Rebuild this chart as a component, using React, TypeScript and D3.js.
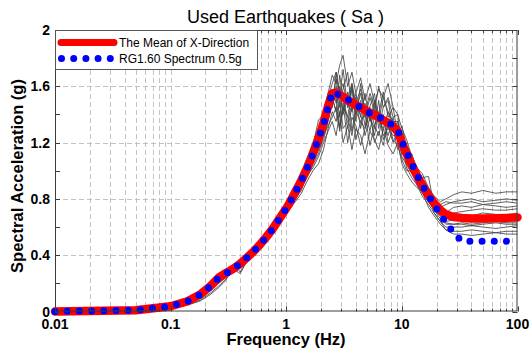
import React, { useEffect, useRef } from 'react';
import * as d3 from 'd3';

// frequency grid (Hz) shared by all curves
const freqs = [
  0.01, 0.05, 0.1, 0.14, 0.18, 0.22, 0.26, 0.3, 0.35, 0.4, 0.46, 0.52, 0.6, 0.68, 0.76, 0.85, 0.95, 1.05, 1.2, 1.35,
  1.5, 1.7, 1.9, 2.1, 2.3, 2.5, 2.7, 2.9, 3.1, 3.4, 3.7, 4.0, 4.4, 4.8, 5.3, 5.8, 6.3, 6.9, 7.6, 8.4,
  9.2, 10, 11, 12.2, 13.5, 15, 17, 19, 21.5, 24, 28, 33, 40, 50, 65, 80, 100,
];

const rg160 = [
  0.0004, 0.009, 0.037, 0.073, 0.12, 0.18, 0.24, 0.27, 0.305, 0.34, 0.385, 0.425, 0.48, 0.535, 0.585, 0.645, 0.705, 0.76, 0.85, 0.93,
  1.01, 1.12, 1.23, 1.33, 1.45, 1.56, 1.55, 1.535, 1.525, 1.505, 1.49, 1.47, 1.45, 1.43, 1.41, 1.4, 1.385, 1.365, 1.345, 1.32,
  1.29, 1.21, 1.13, 1.05, 0.97, 0.9, 0.82, 0.76, 0.69, 0.63, 0.56, 0.5, 0.5, 0.5, 0.5, 0.5, 0.5,
];

const meanX = [
  0.0004, 0.009, 0.037, 0.073, 0.12, 0.18, 0.24, 0.272, 0.305, 0.34, 0.385, 0.425, 0.48, 0.535, 0.585, 0.645, 0.705, 0.76, 0.85, 0.93,
  1.01, 1.12, 1.23, 1.34, 1.46, 1.55, 1.555, 1.54, 1.525, 1.5, 1.485, 1.465, 1.45, 1.43, 1.41, 1.395, 1.38, 1.36, 1.34, 1.315,
  1.28, 1.2, 1.12, 1.04, 0.965, 0.9, 0.825, 0.77, 0.72, 0.69, 0.672, 0.665, 0.66, 0.66, 0.662, 0.665, 0.668,
];

// individual earthquake spectra (grey)
const eq1 = [
  0.0004, 0.009, 0.038, 0.074, 0.122, 0.182, 0.245, 0.28, 0.31, 0.35, 0.4, 0.44, 0.5, 0.56, 0.6, 0.67, 0.73, 0.8, 0.9, 0.99,
  1.08, 1.2, 1.3, 1.42, 1.55, 1.68, 1.62, 1.75, 1.82, 1.6, 1.7, 1.55, 1.66, 1.5, 1.62, 1.48, 1.58, 1.52, 1.62, 1.45,
  1.4, 1.3, 1.22, 1.1, 1.02, 0.98, 0.88, 0.82, 0.78, 0.8, 0.83, 0.85, 0.84, 0.86, 0.84, 0.85, 0.85,
];
const eq2 = [
  0.0004, 0.009, 0.036, 0.072, 0.118, 0.178, 0.238, 0.27, 0.32, 0.33, 0.39, 0.42, 0.49, 0.52, 0.6, 0.63, 0.72, 0.75, 0.88, 0.92,
  1.05, 1.1, 1.26, 1.3, 1.5, 1.5, 1.65, 1.45, 1.58, 1.7, 1.42, 1.55, 1.38, 1.55, 1.35, 1.5, 1.4, 1.56, 1.38, 1.45,
  1.26, 1.32, 1.16, 1.12, 1.0, 0.92, 0.85, 0.8, 0.74, 0.76, 0.78, 0.79, 0.8, 0.78, 0.79, 0.8, 0.79,
];
const eq3 = [
  0.0004, 0.009, 0.037, 0.073, 0.12, 0.18, 0.24, 0.28, 0.3, 0.35, 0.37, 0.44, 0.47, 0.55, 0.57, 0.66, 0.69, 0.78, 0.83, 0.96,
  0.98, 1.15, 1.18, 1.36, 1.4, 1.58, 1.48, 1.6, 1.4, 1.52, 1.62, 1.4, 1.5, 1.32, 1.46, 1.55, 1.3, 1.45, 1.5, 1.28,
  1.35, 1.15, 1.08, 1.08, 0.95, 0.95, 0.96, 0.74, 0.75, 0.7, 0.74, 0.75, 0.74, 0.76, 0.75, 0.74, 0.75,
];
const eq4 = [
  0.0004, 0.009, 0.036, 0.07, 0.115, 0.17, 0.23, 0.265, 0.31, 0.345, 0.38, 0.43, 0.49, 0.53, 0.59, 0.64, 0.71, 0.75, 0.86, 0.92,
  1.03, 1.1, 1.2, 1.28, 1.46, 1.52, 1.42, 1.68, 1.5, 1.38, 1.58, 1.35, 1.62, 1.42, 1.28, 1.48, 1.36, 1.3, 1.42, 1.3,
  1.32, 1.22, 1.1, 1.02, 0.98, 0.88, 0.8, 0.77, 0.72, 0.68, 0.7, 0.71, 0.72, 0.73, 0.72, 0.72, 0.73,
];
const eq5 = [
  0.0004, 0.009, 0.037, 0.074, 0.12, 0.18, 0.24, 0.27, 0.3, 0.34, 0.39, 0.41, 0.5, 0.54, 0.56, 0.65, 0.7, 0.78, 0.84, 0.95,
  1.0, 1.08, 1.25, 1.38, 1.42, 1.45, 1.6, 1.38, 1.55, 1.3, 1.45, 1.52, 1.3, 1.48, 1.38, 1.25, 1.42, 1.35, 1.25, 1.38,
  1.22, 1.18, 1.05, 1.06, 0.92, 0.9, 0.82, 0.74, 0.7, 0.66, 0.68, 0.69, 0.68, 0.7, 0.69, 0.68, 0.7,
];
const eq6 = [
  0.0004, 0.009, 0.035, 0.068, 0.11, 0.165, 0.22, 0.26, 0.29, 0.33, 0.39, 0.42, 0.46, 0.54, 0.58, 0.62, 0.68, 0.74, 0.82, 0.9,
  0.98, 1.06, 1.15, 1.22, 1.35, 1.48, 1.52, 1.32, 1.42, 1.56, 1.28, 1.45, 1.4, 1.25, 1.38, 1.3, 1.5, 1.22, 1.32, 1.2,
  1.28, 1.12, 1.12, 0.98, 0.94, 0.86, 0.8, 0.72, 0.68, 0.64, 0.65, 0.66, 0.65, 0.66, 0.67, 0.66, 0.66,
];
const eq7 = [
  0.0004, 0.008, 0.034, 0.065, 0.105, 0.155, 0.21, 0.25, 0.3, 0.32, 0.36, 0.42, 0.46, 0.5, 0.56, 0.6, 0.66, 0.72, 0.78, 0.84,
  0.92, 1.0, 1.05, 1.15, 1.3, 1.42, 1.35, 1.5, 1.3, 1.35, 1.48, 1.22, 1.35, 1.4, 1.18, 1.32, 1.25, 1.4, 1.2, 1.3,
  1.15, 1.2, 1.02, 0.95, 0.9, 0.84, 0.78, 0.72, 0.66, 0.62, 0.62, 0.63, 0.62, 0.63, 0.64, 0.63, 0.63,
];
const eq8 = [
  0.0004, 0.008, 0.033, 0.062, 0.1, 0.15, 0.2, 0.24, 0.31, 0.34, 0.38, 0.41, 0.47, 0.52, 0.59, 0.63, 0.67, 0.75, 0.8, 0.88,
  0.95, 1.04, 1.12, 1.25, 1.32, 1.38, 1.45, 1.28, 1.48, 1.2, 1.38, 1.32, 1.18, 1.3, 1.42, 1.2, 1.28, 1.18, 1.35, 1.22,
  1.18, 1.08, 1.0, 1.0, 0.9, 0.82, 0.76, 0.7, 0.64, 0.6, 0.6, 0.6, 0.61, 0.6, 0.59, 0.6, 0.61,
];
const eq9 = [
  0.0004, 0.006, 0.025, 0.045, 0.075, 0.12, 0.17, 0.22, 0.34, 0.28, 0.37, 0.4, 0.46, 0.5, 0.55, 0.6, 0.68, 0.72, 0.8, 0.86,
  0.96, 1.02, 1.1, 1.2, 1.28, 1.35, 1.25, 1.42, 1.2, 1.32, 1.15, 1.3, 1.25, 1.12, 1.28, 1.22, 1.15, 1.3, 1.18, 1.12,
  1.2, 1.05, 0.98, 0.92, 0.88, 0.85, 0.74, 0.68, 0.62, 0.58, 0.57, 0.57, 0.58, 0.57, 0.56, 0.57, 0.57,
];
const eq10 = [
  0.0004, 0.006, 0.028, 0.05, 0.08, 0.13, 0.18, 0.23, 0.3, 0.27, 0.36, 0.43, 0.48, 0.56, 0.6, 0.64, 0.72, 0.78, 0.86, 0.98,
  1.06, 1.18, 1.36, 1.4, 1.52, 1.62, 1.7, 1.55, 1.62, 1.45, 1.6, 1.42, 1.55, 1.38, 1.52, 1.42, 1.6, 1.45, 1.52, 1.38,
  1.4, 1.18, 1.06, 1.0, 0.92, 0.9, 0.82, 0.7, 0.64, 0.58, 0.55, 0.55, 0.54, 0.55, 0.56, 0.55, 0.55,
];
const eq11 = [
  0.0004, 0.009, 0.037, 0.072, 0.119, 0.179, 0.24, 0.275, 0.3, 0.345, 0.39, 0.43, 0.48, 0.54, 0.6, 0.64, 0.7, 0.77, 0.87, 0.95,
  1.05, 1.16, 1.28, 1.35, 1.55, 1.45, 1.7, 1.52, 1.72, 1.45, 1.62, 1.48, 1.58, 1.42, 1.55, 1.45, 1.35, 1.52, 1.42, 1.35,
  1.35, 1.2, 1.12, 1.05, 0.99, 0.9, 0.85, 0.79, 0.76, 0.78, 0.77, 0.77, 0.78, 0.76, 0.77, 0.78, 0.77,
];
const eq12 = [
  0.0004, 0.009, 0.036, 0.071, 0.116, 0.175, 0.235, 0.27, 0.29, 0.35, 0.38, 0.43, 0.47, 0.53, 0.57, 0.65, 0.69, 0.76, 0.84, 0.93,
  1.0, 1.12, 1.2, 1.32, 1.38, 1.52, 1.42, 1.3, 1.45, 1.38, 1.25, 1.42, 1.35, 1.3, 1.45, 1.32, 1.4, 1.25, 1.3, 1.25,
  1.25, 1.1, 1.04, 0.98, 0.93, 0.87, 0.78, 0.73, 0.68, 0.63, 0.62, 0.62, 0.61, 0.62, 0.63, 0.62, 0.62,
];
const quakes = [eq1, eq2, eq3, eq4, eq5, eq6, eq7, eq8, eq9, eq10, eq11, eq12];

const xTicks = [0.01, 0.1, 1, 10, 100];
const xTickLabels = ['0.01', '0.1', '1', '10', '100'];
const yTicks = [0, 0.4, 0.8, 1.2, 1.6, 2];
const yTickLabels = ['0', '0.4', '0.8', '1.2', '1.6', '2'];
const yMinorTicks = [0.2, 0.6, 1.0, 1.4, 1.8];
const legendLabels = ['The Mean of X-Direction', 'RG1.60 Spectrum 0.5g'];

export default function App() {
  const svgRef = useRef<SVGSVGElement>(null);

  useEffect(() => {
    if (!svgRef.current) return;
    document.body.style.margin = '0';

    const svg = d3.select(svgRef.current);
    svg.selectAll('*').remove();

    const W = 531;
    const H = 352;
    const margin = { top: 30, right: 13.5, bottom: 40.5, left: 55 };
    const font = 'Liberation Sans, Arial, sans-serif';

    const x = d3.scaleLog().domain([0.01, 100]).range([margin.left, W - margin.right]);
    const y = d3.scaleLinear().domain([0, 2]).range([H - margin.bottom, margin.top]);
    const [x0, x1] = x.range();
    const [y0, y1] = y.range();

    svg.append('rect').attr('width', W).attr('height', H).attr('fill', '#fff');

    // grid
    const grid = svg.append('g').attr('stroke', '#b4b4b4').attr('stroke-width', 0.8).attr('stroke-dasharray', '5,3');
    grid
      .selectAll('.vgrid')
      .data(x.ticks().filter((t) => t > 0.0101 && t < 99))
      .enter()
      .append('line')
      .attr('x1', (d) => Math.round(x(d)) + 0.5)
      .attr('x2', (d) => Math.round(x(d)) + 0.5)
      .attr('y1', y1)
      .attr('y2', y0);
    grid
      .selectAll('.hgrid')
      .data(yTicks.filter((t) => t > 0 && t < 2))
      .enter()
      .append('line')
      .attr('x1', x0)
      .attr('x2', x1)
      .attr('y1', (d) => Math.round(y(d)) + 0.5)
      .attr('y2', (d) => Math.round(y(d)) + 0.5);

    const line = d3
      .line<number>()
      .x((_, i) => x(freqs[i]))
      .y((d) => y(d));

    // earthquakes
    svg
      .append('g')
      .selectAll('path')
      .data(quakes)
      .enter()
      .append('path')
      .attr('d', line)
      .attr('fill', 'none')
      .attr('stroke', '#444')
      .attr('stroke-width', 0.85);

    // mean
    svg
      .append('path')
      .datum(meanX)
      .attr('d', line)
      .attr('fill', 'none')
      .attr('stroke', '#ff0000')
      .attr('stroke-width', 8.5)
      .attr('stroke-linejoin', 'round')
      .attr('stroke-linecap', 'round');

    // RG1.60 spectrum, big dots
    svg
      .append('path')
      .datum(rg160)
      .attr('d', line)
      .attr('fill', 'none')
      .attr('stroke', '#0000ff')
      .attr('stroke-width', 7)
      .attr('stroke-linecap', 'round')
      .attr('stroke-dasharray', '0 12.2');

    // box + ticks
    const axis = svg.append('g').attr('stroke', '#3c3c3c').attr('stroke-width', 1);
    axis
      .append('rect')
      .attr('x', x0 + 0.5)
      .attr('y', y1 + 0.5)
      .attr('width', x1 - x0 - 1)
      .attr('height', y0 - y1 - 1)
      .attr('fill', 'none');
    yTicks.concat(yMinorTicks).forEach((t) => {
      const yy = Math.round(y(t)) + 0.5;
      axis.append('line').attr('x1', x0).attr('x2', x0 + 5).attr('y1', yy).attr('y2', yy);
      axis.append('line').attr('x1', x1 - 5).attr('x2', x1).attr('y1', yy).attr('y2', yy);
    });
    x.ticks().forEach((t) => {
      const xx = Math.round(x(t)) + 0.5;
      const len = xTicks.some((m) => Math.abs(m - t) / m < 1e-6) ? 5 : 3;
      axis.append('line').attr('x1', xx).attr('x2', xx).attr('y1', y0).attr('y2', y0 - len);
      axis.append('line').attr('x1', xx).attr('x2', xx).attr('y1', y1).attr('y2', y1 + len);
    });

    // tick labels
    svg
      .selectAll('.xlab')
      .data(xTicks)
      .enter()
      .append('text')
      .attr('x', (d) => x(d))
      .attr('y', 328.5)
      .attr('text-anchor', 'middle')
      .attr('font-family', font)
      .attr('font-weight', 'bold')
      .attr('font-size', 14)
      .text((_, i) => xTickLabels[i]);
    svg
      .selectAll('.ylab')
      .data(yTicks)
      .enter()
      .append('text')
      .attr('x', 50)
      .attr('y', (d) => y(d) + 5)
      .attr('text-anchor', 'end')
      .attr('font-family', font)
      .attr('font-weight', 'bold')
      .attr('font-size', 14)
      .text((_, i) => yTickLabels[i]);

    // titles
    svg
      .append('text')
      .attr('x', 285.5)
      .attr('y', 22.5)
      .attr('text-anchor', 'middle')
      .attr('font-family', font)
      .attr('font-size', 18)
      .text('Used Earthquakes ( Sa )');
    svg
      .append('text')
      .attr('x', 286)
      .attr('y', 345)
      .attr('text-anchor', 'middle')
      .attr('font-family', font)
      .attr('font-weight', 'bold')
      .attr('font-size', 16.5)
      .text('Frequency (Hz)');
    svg
      .append('text')
      .attr('transform', 'translate(23,176) rotate(-90)')
      .attr('text-anchor', 'middle')
      .attr('font-family', font)
      .attr('font-weight', 'bold')
      .attr('font-size', 16.5)
      .text('Spectral Acceleration (g)');

    // legend
    const lg = svg.append('g');
    lg.append('rect')
      .attr('x', 55.5)
      .attr('y', 30.5)
      .attr('width', 202)
      .attr('height', 39)
      .attr('fill', '#fff')
      .attr('stroke', '#555')
      .attr('stroke-width', 1);
    lg.append('line')
      .attr('x1', 61)
      .attr('x2', 114)
      .attr('y1', 42.5)
      .attr('y2', 42.5)
      .attr('stroke', '#ff0000')
      .attr('stroke-width', 7)
      .attr('stroke-linecap', 'round');
    lg.append('line')
      .attr('x1', 61.5)
      .attr('x2', 111)
      .attr('y1', 58.5)
      .attr('y2', 58.5)
      .attr('stroke', '#0000ff')
      .attr('stroke-width', 7)
      .attr('stroke-linecap', 'round')
      .attr('stroke-dasharray', '0 12.2');
    lg.selectAll('text')
      .data(legendLabels)
      .enter()
      .append('text')
      .attr('x', 119)
      .attr('y', (_, i) => 47 + i * 15.5)
      .attr('font-family', font)
      .attr('font-size', 12)
      .text((d) => d);
  }, []);

  return <svg ref={svgRef} width={531} height={352} style={{ display: 'block' }} />;
}
